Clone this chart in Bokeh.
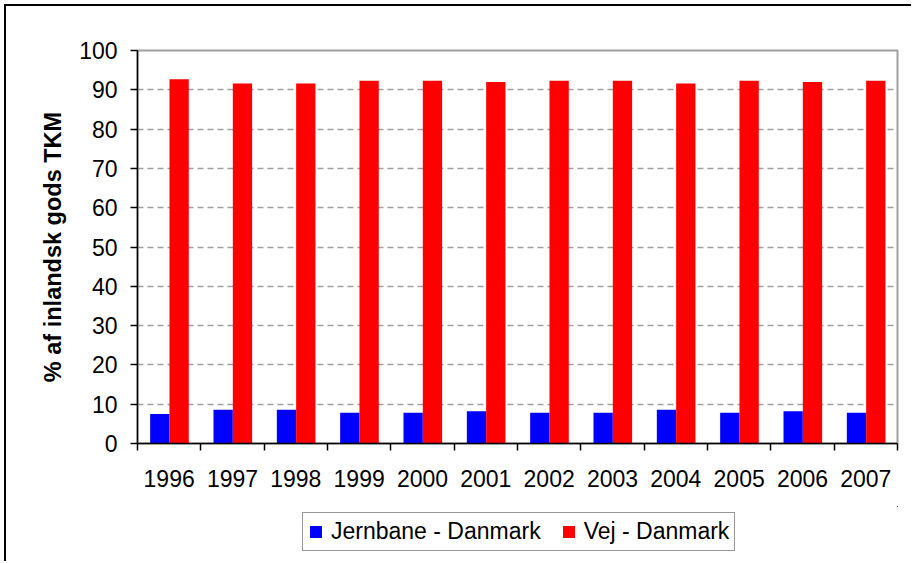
import numpy as np
from bokeh.plotting import figure
from bokeh.layouts import column
from bokeh.models import Range1d, FixedTicker, Legend, LegendItem, ColumnDataSource
from bokeh.embed import file_html
from bokeh.resources import INLINE

years = ["1996", "1997", "1998", "1999", "2000", "2001", "2002", "2003", "2004", "2005", "2006", "2007"]
jernbane = [7.5, 8.6, 8.6, 7.8, 7.8, 8.2, 7.8, 7.8, 8.6, 7.8, 8.2, 7.8]
vej = [92.7, 91.6, 91.6, 92.3, 92.3, 92.0, 92.3, 92.3, 91.6, 92.3, 92.0, 92.3]
y_ticks = [0, 10, 20, 30, 40, 50, 60, 70, 80, 90, 100]
y_title = "% af inlandsk gods TKM"
series_names = ["Jernbane - Danmark", "Vej - Danmark"]
colors = ["#0000ff", "#ff0000"]

FONT = "Liberation Sans"
n = len(years)
idx = np.arange(n)
centers = idx + 0.5
bw = 0.305

src = ColumnDataSource(dict(
    xj=centers - bw / 2 + 0.005,
    xv=centers + bw / 2 + 0.005,
    jern=jernbane,
    vej=vej,
))

p = figure(width=905, height=500, output_backend="svg", toolbar_location=None,
           x_range=Range1d(0, n), y_range=Range1d(0, 100),
           min_border_left=131, min_border_right=14, min_border_top=44, min_border_bottom=63)

p.vbar(x="xj", top="jern", width=bw, source=src, fill_color=colors[0], line_color=None)
p.vbar(x="xv", top="vej", width=bw, source=src, fill_color=colors[1], line_color=None)

p.outline_line_color = "#a0a0a0"
p.outline_line_width = 2
p.background_fill_color = "white"
p.border_fill_color = "white"

# x axis
xa = p.xaxis[0]
xa.ticker = FixedTicker(ticks=list(centers), minor_ticks=list(range(n + 1)))
xa.major_label_overrides = {float(c): y for c, y in zip(centers, years)}
xa.major_tick_out = 0
xa.major_tick_in = 0
xa.minor_tick_out = 7
xa.minor_tick_in = 0
xa.minor_tick_line_color = "black"
xa.minor_tick_line_width = 1.5
xa.axis_line_color = "black"
xa.axis_line_width = 1.5
xa.major_label_text_font = FONT
xa.major_label_text_font_size = "23px"
xa.major_label_text_color = "black"
xa.major_label_standoff = 19

# y axis
ya = p.yaxis[0]
ya.ticker = FixedTicker(ticks=y_ticks, minor_ticks=[])
ya.major_tick_out = 7
ya.major_tick_in = 0
ya.major_tick_line_color = "black"
ya.major_tick_line_width = 1.5
ya.axis_line_color = "black"
ya.axis_line_width = 1.5
ya.major_label_text_font = FONT
ya.major_label_text_font_size = "23px"
ya.major_label_text_color = "black"
ya.major_label_standoff = 13
ya.axis_label = y_title
ya.axis_label_text_font = FONT
ya.axis_label_text_font_size = "23.5px"
ya.axis_label_text_font_style = "bold"
ya.axis_label_text_color = "black"
ya.axis_label_standoff = 10

p.xgrid.grid_line_color = None
p.ygrid.ticker = FixedTicker(ticks=y_ticks[1:-1])
p.ygrid.grid_line_color = "#a0a0a0"
p.ygrid.grid_line_dash = "6 4"
p.ygrid.grid_line_width = 1.5

# legend strip below the chart: its ranges lie far away from the data, so only the legend shows
lg = figure(width=905, height=55, output_backend="svg", toolbar_location=None,
            x_range=Range1d(-3 * n, -2 * n), y_range=Range1d(-200, -100),
            min_border_left=0, min_border_right=0, min_border_top=0, min_border_bottom=0)
lg.axis.visible = False
lg.grid.visible = False
lg.outline_line_color = None
lg.border_fill_color = "white"
lg.background_fill_color = "white"
items = []
for name, col, key in zip(series_names, colors, ["jern", "vej"]):
    r = lg.vbar(x="xj", top=key, width=bw, source=src, fill_color=col, line_color=None)
    items.append(LegendItem(label=name, renderers=[r]))
legend = Legend(items=items, orientation="horizontal", location=(165, 10))
legend.label_text_font = FONT
legend.label_text_font_size = "23px"
legend.label_text_color = "black"
legend.glyph_width = 15
legend.glyph_height = 15
legend.label_standoff = 8
legend.spacing = 20
legend.padding = 5
legend.margin = 0
legend.label_height = 22
legend.border_line_color = "#333333"
legend.border_line_width = 1.5
legend.background_fill_color = "white"
legend.background_fill_alpha = 1
lg.add_layout(legend, "center")

layout = column(p, lg, spacing=0,
                styles={"border-left": "2px solid black", "border-top": "2px solid black",
                        "margin-left": "4px", "margin-top": "4px"})

open("out.html", "w").write(file_html(layout, INLINE))
